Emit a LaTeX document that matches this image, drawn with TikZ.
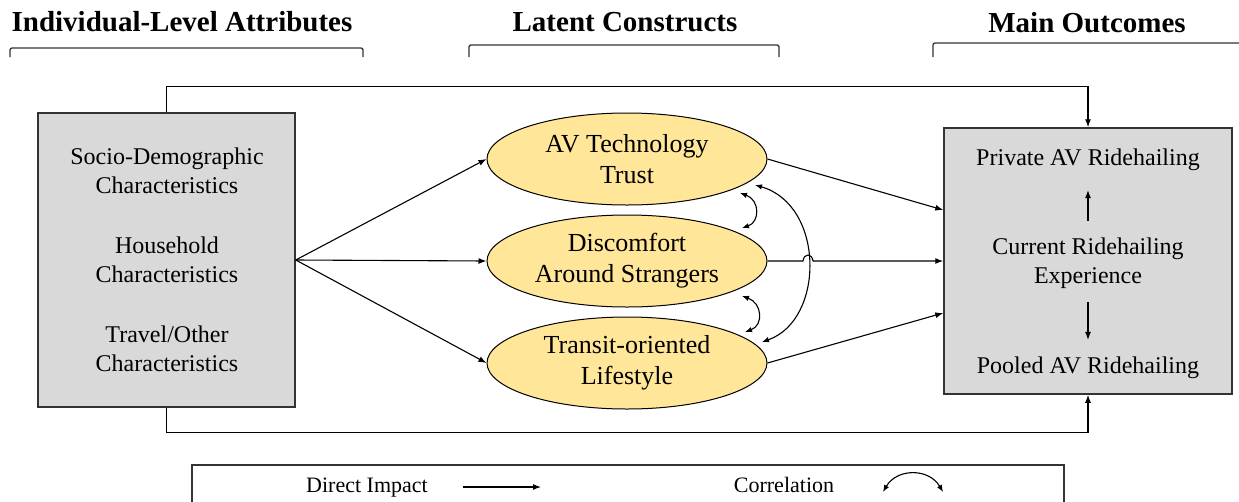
\documentclass[tikz,border=0pt]{standalone}
\usepackage{fontspec}
\setmainfont{Liberation Serif}
\usetikzlibrary{arrows.meta,shapes.geometric}
\definecolor{boxgray}{HTML}{D9D9D9}
\definecolor{lgold}{HTML}{FFE699}
\definecolor{edgec}{HTML}{333333}
\begin{document}
\begin{tikzpicture}[x=1pt,y=-1pt,
  arr/.style={-{Latex[length=8pt,width=6pt]}, line width=1.1pt},
  dbl/.style={{Latex[length=7pt,width=5.5pt]}-{Latex[length=7pt,width=5.5pt]}, line width=1.1pt},
  greybox/.style={draw=edgec, line width=1.5pt, fill=boxgray, rectangle, inner sep=0pt},
  oval/.style={ellipse, draw=black, line width=1pt, fill=lgold, minimum width=280pt, minimum height=92pt, inner sep=0pt, align=center, font=\fontsize{26}{31}\selectfont},
  txt/.style={align=center, font=\fontsize{24}{29}\selectfont, inner sep=0pt},
  head/.style={font=\fontsize{29}{34}\selectfont\bfseries, inner sep=0pt},
  brk/.style={line width=1.3pt, draw=edgec, rounded corners=2pt},
  legtxt/.style={font=\fontsize{22}{26}\selectfont, inner sep=0pt, anchor=base}
]
\useasboundingbox (0,0) rectangle (1239,501);

% headers
\node[head] (h1) at (182,22) {Individual-Level Attributes};
\node[head] (h2) at (625,22) {Latent Constructs};
\node[head] (h3) at (1087,23) {Main Outcomes};
\draw[brk] (10,57) -- (10,48) -- (363,48) -- (363,57);
\draw[brk] (469,57) -- (469,45) -- (779,45) -- (779,57);
\draw[brk] (933,57) -- (933,43) -- (1250,43);

% left box
\node[greybox, minimum width=257pt, minimum height=294pt] (attr) at (166.5,260) {};
\node[txt] (a1) at (167,171) {Socio-Demographic\\Characteristics};
\node[txt] (a2) at (167,260) {Household\\Characteristics};
\node[txt] (a3) at (167,349) {Travel/Other\\Characteristics};

% ellipses
\node[oval] (e1) at (627,159) {AV Technology\\Trust};
\node[oval] (e2) at (627,261) {Discomfort\\Around Strangers};
\node[oval] (e3) at (627,363) {Transit-oriented\\Lifestyle};

% right box
\node[greybox, minimum width=288pt, minimum height=266pt] (rbox) at (1088,261) {};
\node[txt] (p1) at (1088,160) {Private AV Ridehailing};
\node[txt] (cur) at (1088,263.5) {Current Ridehailing\\Experience};
\node[txt] (p2) at (1088,368) {Pooled AV Ridehailing};
\draw[arr, shorten <=17pt, shorten >=19pt] (cur.north) -- (p1.south);
\draw[arr, shorten <=13pt, shorten >=17pt] (cur.south) -- (p2.north);

% direct impacts
\draw[arr] (attr.east) -- (e1.west);
\draw[arr] (attr.east) -- (e2.west);
\draw[arr] (attr.east) -- (e3.west);
\draw[arr] (e1.east) -- ([yshift=51pt]rbox.west);
\draw[arr] (e2.east) -- (803,261) .. controls (804,253) and (812,253) .. (813,261) -- (rbox.west);
\draw[arr] (e3.east) -- ([yshift=-52pt]rbox.west);
\draw[arr] (attr.north) -- ++(0,-26) -| (rbox.north);
\draw[arr] (attr.south) -- ++(0,25) -| (rbox.south);

% correlations
\coordinate (c1a) at (740,193);
\coordinate (c1b) at (742,228);
\coordinate (c2a) at (742,296);
\coordinate (c2b) at (745,332);
\coordinate (c3a) at (755,185);
\coordinate (c3b) at (762,342);
\draw[dbl] (c1a) .. controls (760,200) and (760,222) .. (c1b);
\draw[dbl] (c2a) .. controls (762,303) and (764,325) .. (c2b);
\draw[dbl] (c3a) .. controls (825,205) and (825,320) .. (c3b);

% legend
\draw[line width=1.3pt, draw=edgec] (192,515) -- (192,465) -- (1064,465) -- (1064,515);
\node[legtxt] (l1) at (367,492) {Direct Impact};
\node[legtxt] (l2) at (784,492) {Correlation};
\coordinate (la) at (463,487);
\coordinate (lb) at (541,487);
\draw[arr] (la) -- (lb);
\coordinate (lc) at (883,492);
\coordinate (ld) at (943,492);
\draw[dbl] (lc) .. controls (897,468) and (929,468) .. (ld);
\end{tikzpicture}
\end{document}
